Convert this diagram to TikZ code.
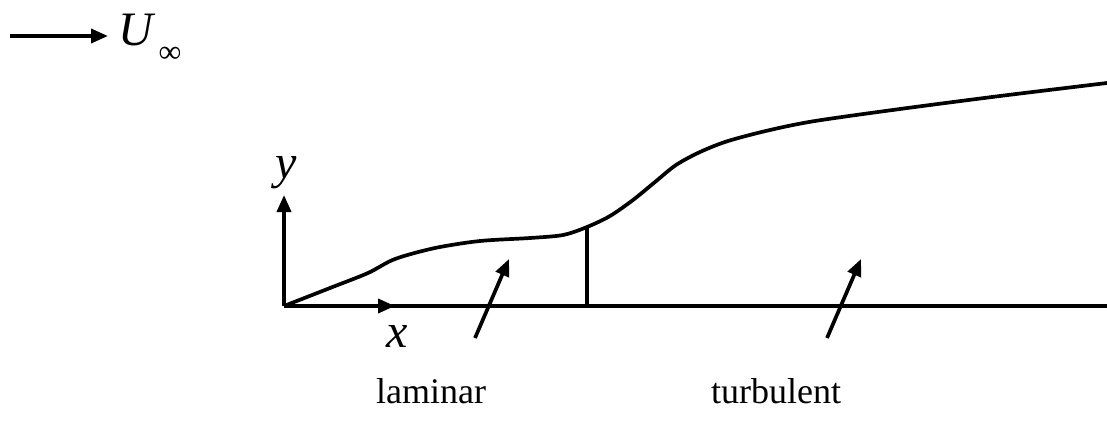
\documentclass[tikz,border=0pt]{standalone}
\usepackage{fontspec}
\setmainfont{Liberation Serif}
\usetikzlibrary{arrows.meta}
\begin{document}
\begin{tikzpicture}[x=1pt,y=-1pt,
  ln/.style={line width=3.7pt},
  arr/.style={ln,-{Triangle[length=17pt,width=14pt]}},
  lbl/.style={font=\fontsize{36}{40}\selectfont, inner sep=0pt},
  sym/.style={font=\fontsize{48}{52}\selectfont\itshape, inner sep=0pt}]
\useasboundingbox (0,0) rectangle (1107,431);
% free stream
\coordinate (u0) at (10,36);
\coordinate (u1) at (108,36);
\draw[arr] (u0) -- (u1);
\node[sym, anchor=west] (U) at (118,30) {U};
\node[inner sep=0pt, font=\fontsize{32}{34}\selectfont] (inf) at (170,55) {∞};
% axes
\coordinate (O) at (284,306);
\coordinate (ytip) at (284,195);
\coordinate (xtip) at (395,306);
\coordinate (xend) at (1107,306);
\draw[ln] (O) -- (xend);
\draw[arr] (O) -- (ytip);
\draw[arr] (O) -- (xtip);
\node[sym] (ylab) at (286,173) {y};
\node[sym] (xlab) at (397,336) {x};
% boundary layer edge
\coordinate (tr) at (587,227);
\draw[ln] plot[smooth, tension=0.5] coordinates {(284,306) (330,288) (368,273) (395,259) (435,248) (480,241) (530,238) (563,235) (587,227) (610,216) (633,200) (655,182) (676,165) (700,152) (728,141) (770,130) (815,121) (900,109) (1000,96) (1107,83)};
% transition line
\coordinate (trb) at (587,306);
\draw[ln] (tr) -- (trb);
% pointer arrows
\coordinate (la0) at (475,338);
\coordinate (la1) at (509,259);
\draw[arr] (la0) -- (la1);
\coordinate (ta0) at (827,338);
\coordinate (ta1) at (861,259);
\draw[arr] (ta0) -- (ta1);
% labels
\node[lbl] (lam) at (431,391) {laminar};
\node[lbl] (turb) at (776,391) {turbulent};
\end{tikzpicture}
\end{document}
